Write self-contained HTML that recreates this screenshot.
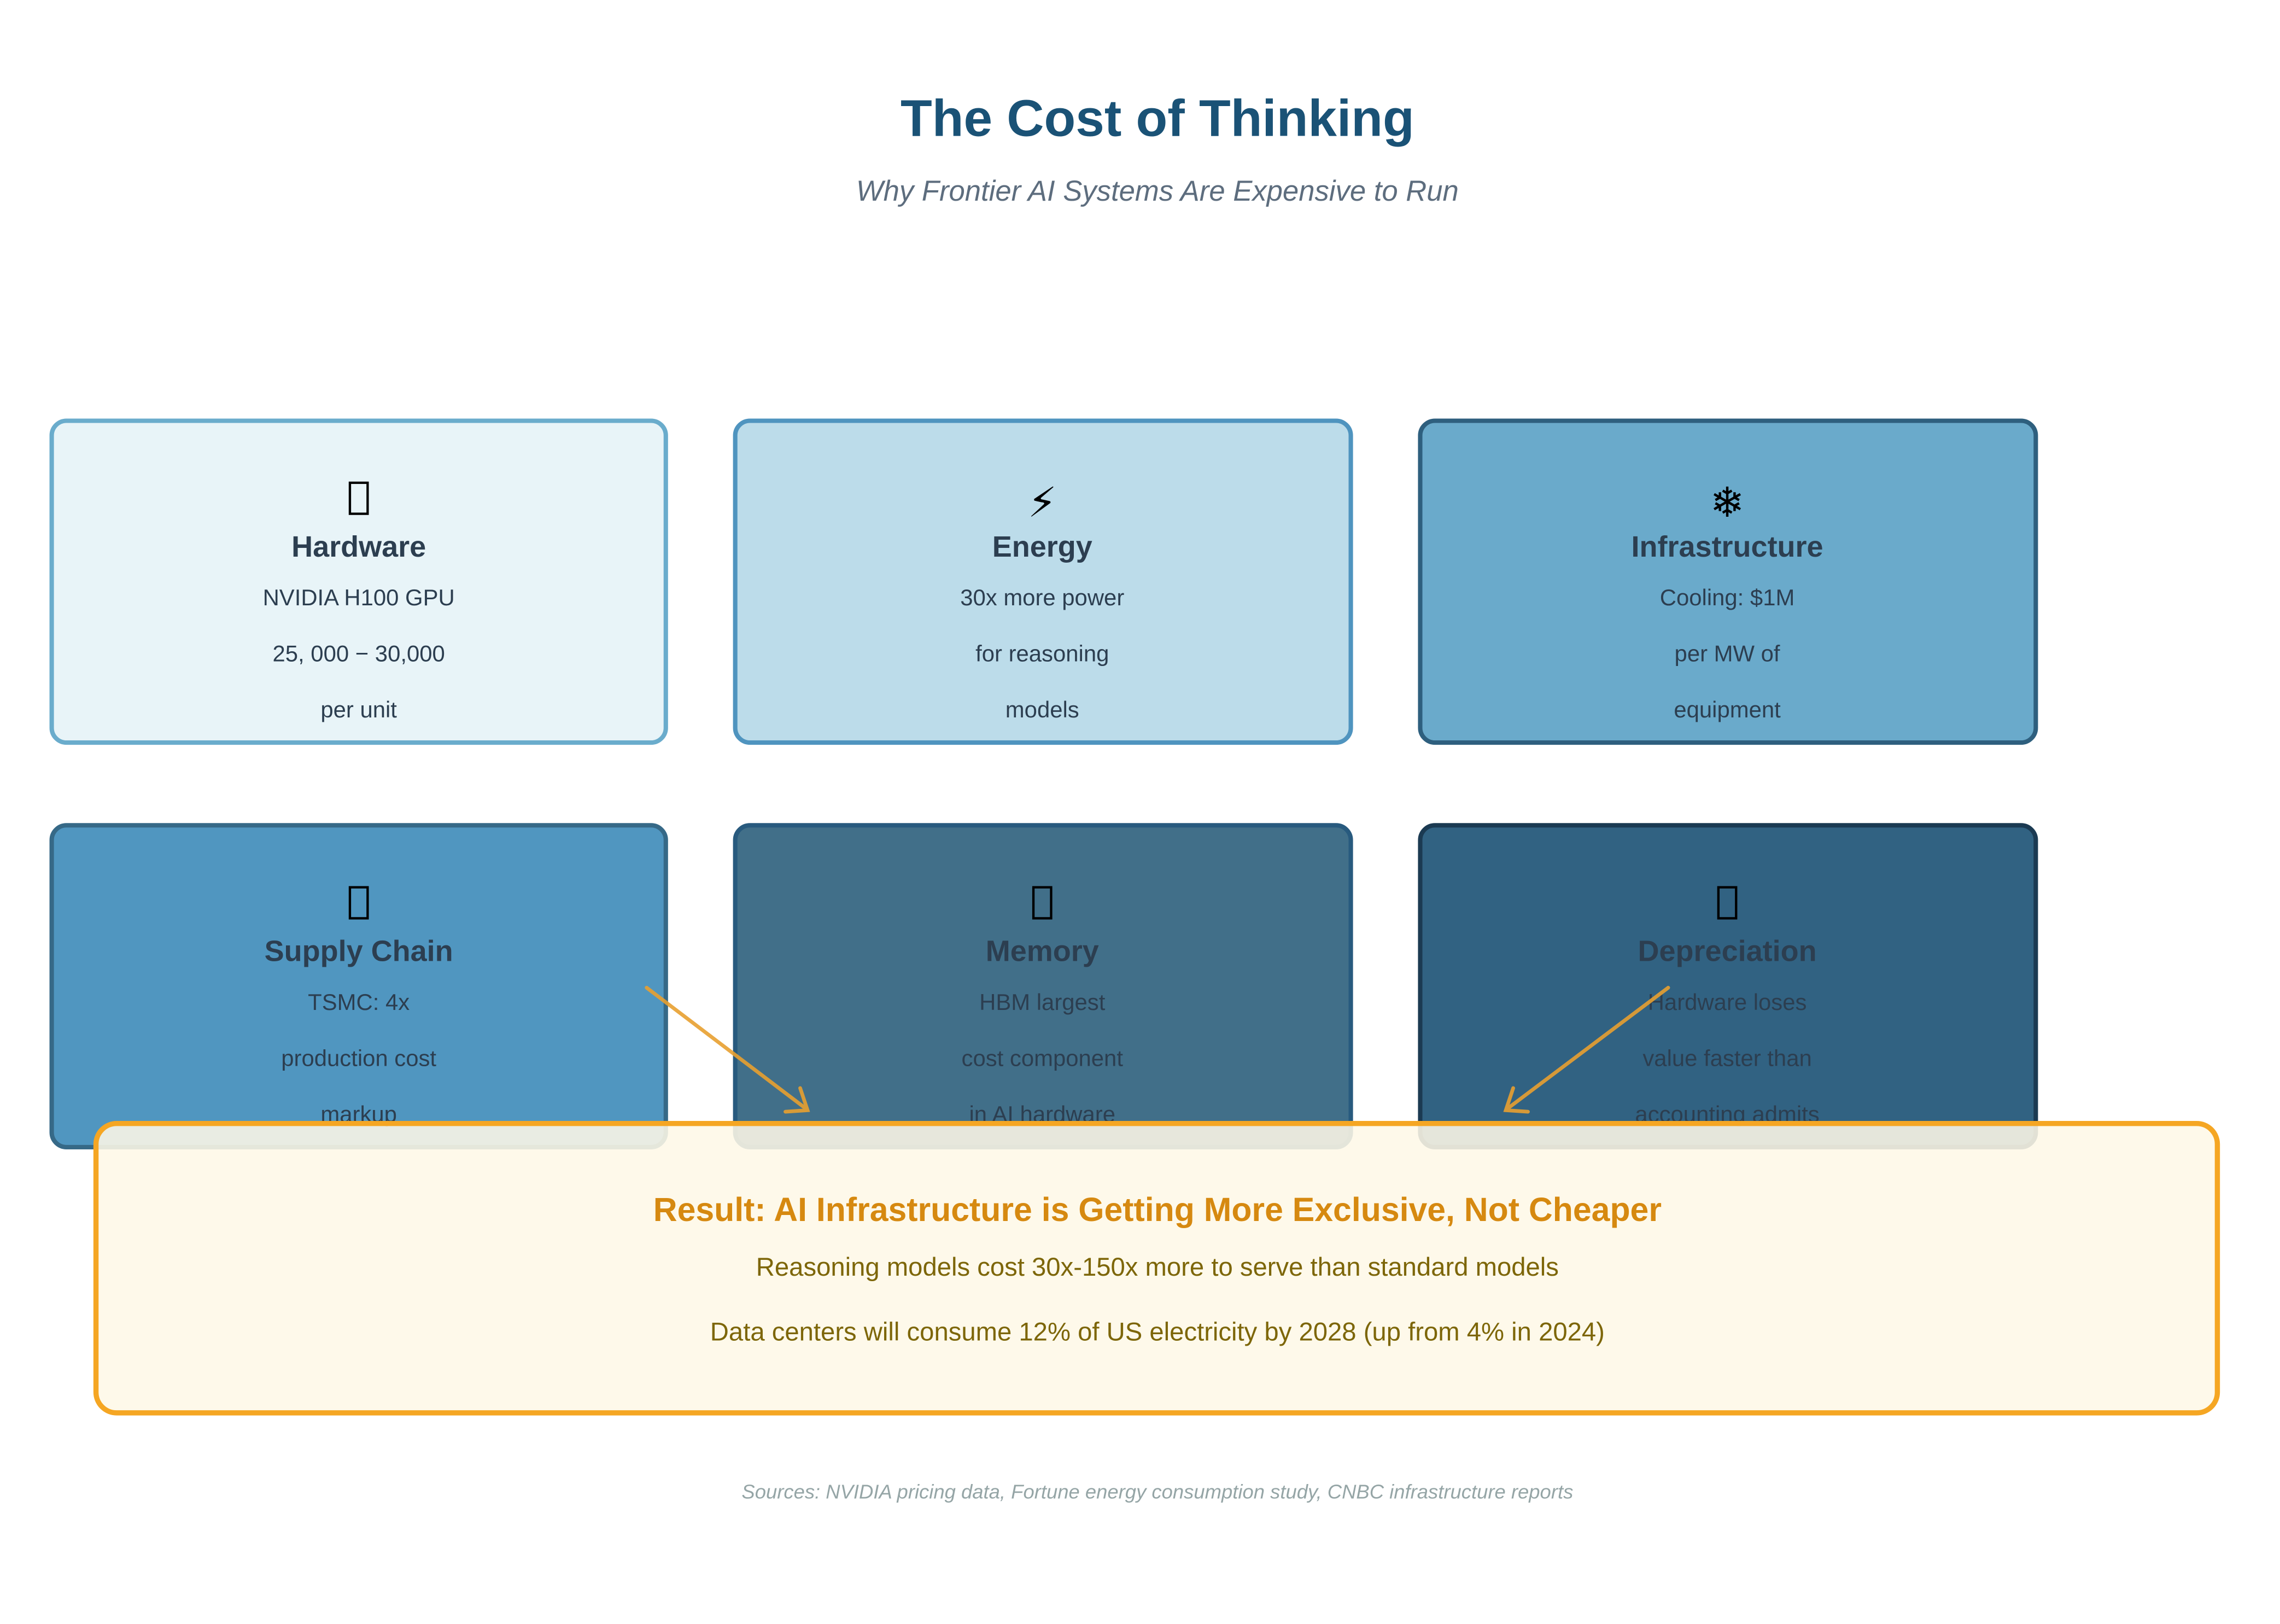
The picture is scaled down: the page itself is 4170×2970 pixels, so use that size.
<!DOCTYPE html>
<html><head><meta charset="utf-8"><style>html,body{margin:0;padding:0;background:#fff}svg{display:block}</style></head>
<body>
<svg width="4170" height="2970" viewBox="0 0 1544.4 1100" xmlns="http://www.w3.org/2000/svg" font-family="'Liberation Sans','DejaVu Sans',sans-serif">
<rect width="1544.4" height="1100" fill="#fff"/>
<text x="784" y="92" text-anchor="middle" font-size="35" font-weight="bold" fill="#1a5276">The Cost of Thinking</text>
<text x="784" y="136" text-anchor="middle" font-size="19.5" font-style="italic" fill="#5d6d7e">Why Frontier AI Systems Are Expensive to Run</text>

<g stroke-width="3">
<rect x="35" y="285" width="416" height="218" rx="10" fill="#e8f4f8" stroke="#6aaccc"/>
<rect x="498" y="285" width="417" height="218" rx="10" fill="#bcdcea" stroke="#4f94bf"/>
<rect x="962" y="285" width="417" height="218" rx="10" fill="#6aaacb" stroke="#2e5f7e"/>
<rect x="35" y="559" width="416" height="218" rx="10" fill="#5096c0" stroke="#366987"/>
<rect x="498" y="559" width="417" height="218" rx="10" fill="#416f89" stroke="#285a7e"/>
<rect x="962" y="559" width="417" height="218" rx="10" fill="#316282" stroke="#1b3a52"/>
</g>

<g fill="none" stroke="#000" stroke-width="1.6">
<rect x="237" y="327" width="12" height="21"/>
<rect x="237" y="601" width="12" height="21"/>
<rect x="700" y="601" width="12" height="21"/>
<rect x="1164" y="601" width="12" height="21"/>
</g>
<text x="706" y="350" text-anchor="middle" font-size="28" fill="#000" font-family="'DejaVu Sans',sans-serif">⚡</text>
<text x="1170" y="350" text-anchor="middle" font-size="28" fill="#000" font-family="'DejaVu Sans',sans-serif">❄</text>

<g text-anchor="middle" fill="#2c3e50">
<g font-size="20" font-weight="bold">
<text x="243" y="377">Hardware</text>
<text x="706" y="377">Energy</text>
<text x="1170" y="377">Infrastructure</text>
<text x="243" y="651">Supply Chain</text>
<text x="706" y="651">Memory</text>
<text x="1170" y="651">Depreciation</text>
</g>
<g font-size="15.5">
<text x="243" y="410">NVIDIA H100 GPU</text>
<text x="243" y="448">25, 000 − 30,000</text>
<text x="243" y="486">per unit</text>
<text x="706" y="410">30x more power</text>
<text x="706" y="448">for reasoning</text>
<text x="706" y="486">models</text>
<text x="1170" y="410">Cooling: $1M</text>
<text x="1170" y="448">per MW of</text>
<text x="1170" y="486">equipment</text>
<text x="243" y="684">TSMC: 4x</text>
<text x="243" y="722">production cost</text>
<text x="243" y="760">markup</text>
<text x="706" y="684">HBM largest</text>
<text x="706" y="722">cost component</text>
<text x="706" y="760">in AI hardware</text>
<text x="1170" y="684">Hardware loses</text>
<text x="1170" y="722">value faster than</text>
<text x="1170" y="760">accounting admits</text>
</g>
</g>

<g stroke="#e8a030" stroke-width="2.5" fill="none" stroke-linecap="round" opacity="0.9">
<line x1="438" y1="669" x2="546" y2="751"/>
<polyline points="532,753 547,752 542,737"/>
<line x1="1130" y1="669" x2="1021" y2="751"/>
<polyline points="1025,737 1020,752 1035,753"/>
</g>

<rect x="65" y="761" width="1437" height="196" rx="14" fill="#fef8e7" fill-opacity="0.88" stroke="#f5a623" stroke-width="3.5"/>
<text x="784" y="827" text-anchor="middle" font-size="22.5" font-weight="bold" fill="#d68910">Result: AI Infrastructure is Getting More Exclusive, Not Cheaper</text>
<text x="784" y="864" text-anchor="middle" font-size="17.5" fill="#7d6608">Reasoning models cost 30x-150x more to serve than standard models</text>
<text x="784" y="908" text-anchor="middle" font-size="17.5" fill="#7d6608">Data centers will consume 12% of US electricity by 2028 (up from 4% in 2024)</text>

<text x="784" y="1015" text-anchor="middle" font-size="13.5" font-style="italic" fill="#95a5a6">Sources: NVIDIA pricing data, Fortune energy consumption study, CNBC infrastructure reports</text>
</svg>
</body></html>
